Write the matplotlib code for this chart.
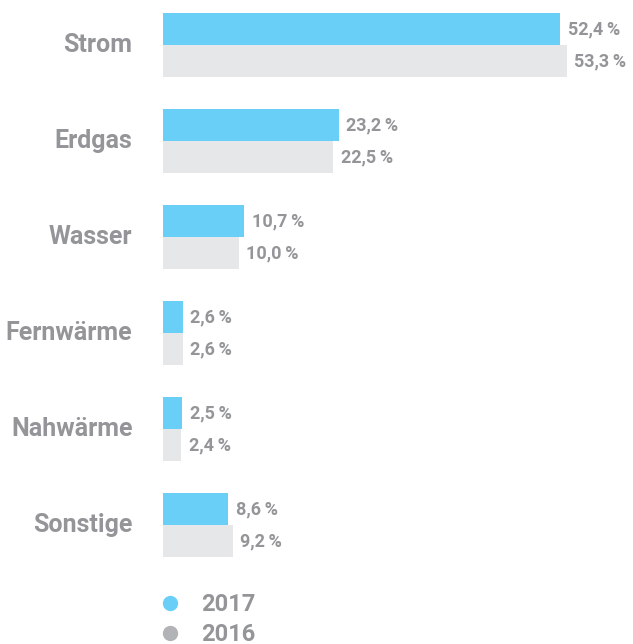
import matplotlib
matplotlib.use("Agg")
import matplotlib.pyplot as plt
from matplotlib.lines import Line2D

plt.rcParams['font.family'] = ['Roboto', 'DejaVu Sans']

categories = ["Strom", "Erdgas", "Wasser", "Fernwärme", "Nahwärme", "Sonstige"]
vals_2017 = [52.4, 23.2, 10.7, 2.6, 2.5, 8.6]
vals_2016 = [53.3, 22.5, 10.0, 2.6, 2.4, 9.2]
years = ["2017", "2016"]

blue = "#6acff6"
light = "#e6e7e8"
dot_grey = "#b1b3b6"
text_grey = "#939598"

fig = plt.figure(figsize=(6.33, 6.44), dpi=100)
ax = fig.add_axes([163 / 633, 87 / 644, 470 / 633, 544 / 644])

y17 = [3 * i + 0.5 for i in range(len(categories))]
y16 = [3 * i + 1.5 for i in range(len(categories))]
ax.barh(y17, vals_2017, height=1.0, color=blue)
ax.barh(y16, vals_2016, height=1.0, color=light)

def fmt(v):
    return f"{v:.1f}".replace(".", ",") + "\u2009%"

for y, v in zip(y17, vals_2017):
    ax.text(v + 1.0, y, fmt(v), va="center", ha="left", fontsize=13,
            fontweight="bold", color=text_grey)
for y, v in zip(y16, vals_2016):
    ax.text(v + 1.0, y, fmt(v), va="center", ha="left", fontsize=13,
            fontweight="bold", color=text_grey)

ax.set_xlim(0, 470 / 7.576)
ax.set_ylim(17, 0)
ax.set_yticks([3 * i + 1 for i in range(len(categories))])
ax.set_yticklabels(categories, fontsize=18, fontweight="bold", color=text_grey,
                   va="center")
ax.tick_params(axis="y", length=0, pad=22)
ax.set_xticks([])
for s in ax.spines.values():
    s.set_visible(False)

handles = [Line2D([], [], marker="o", linestyle="", markersize=10, color=blue),
           Line2D([], [], marker="o", linestyle="", markersize=10, color=dot_grey)]
leg = fig.legend(handles, years, loc="upper left", bbox_to_anchor=(139 / 633, 1 - 572 / 644),
                 frameon=False, handlelength=0.8, handletextpad=0.95, labelspacing=0.3,
                 prop={"size": 17, "weight": "bold"})
for t in leg.get_texts():
    t.set_color(text_grey)

fig.savefig("out.png", dpi=100)
